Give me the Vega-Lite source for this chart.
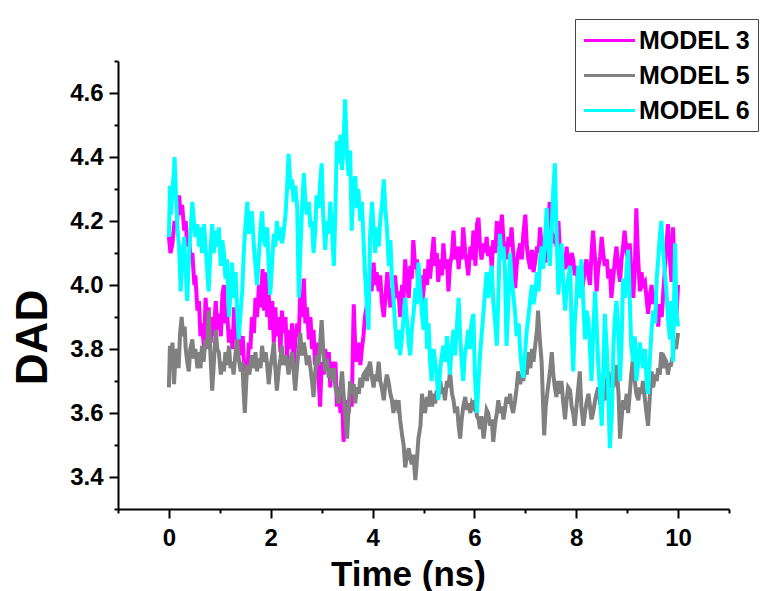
{
"$schema":"https://vega.github.io/schema/vega-lite/v6.json",
"width":611,"height":448,
"autosize":"none",
"padding":{"left":118,"top":61,"right":41,"bottom":82},
"background":"white",
"config":{"view":{"stroke":null},"font":"Liberation Sans"},
"layer":[
{"data":{"values":[
{"t":0.00,"v":4.15},{"t":0.03,"v":4.10},{"t":0.07,"v":4.13},{"t":0.11,"v":4.20},{"t":0.15,"v":4.18},{"t":0.20,"v":4.28},{"t":0.23,"v":4.22},{"t":0.26,"v":4.25},{"t":0.30,"v":4.17},{"t":0.33,"v":4.20},{"t":0.36,"v":4.12},{"t":0.39,"v":4.15},{"t":0.43,"v":4.08},{"t":0.46,"v":4.10},{"t":0.50,"v":4.00},{"t":0.52,"v":4.03},{"t":0.56,"v":3.92},{"t":0.59,"v":3.95},{"t":0.62,"v":3.84},{"t":0.65,"v":3.88},{"t":0.69,"v":3.80},{"t":0.72,"v":3.96},{"t":0.75,"v":3.88},{"t":0.78,"v":3.93},{"t":0.82,"v":3.82},{"t":0.85,"v":3.90},{"t":0.88,"v":3.84},{"t":0.92,"v":3.95},{"t":0.95,"v":3.86},{"t":0.98,"v":3.91},
{"t":1.02,"v":3.84},{"t":1.05,"v":3.97},{"t":1.08,"v":4.00},{"t":1.11,"v":3.88},{"t":1.14,"v":3.92},{"t":1.18,"v":3.82},{"t":1.21,"v":3.86},{"t":1.25,"v":3.80},{"t":1.28,"v":3.93},{"t":1.31,"v":3.88},{"t":1.35,"v":3.80},{"t":1.38,"v":3.85},{"t":1.41,"v":3.78},{"t":1.45,"v":3.84},{"t":1.48,"v":3.73},{"t":1.50,"v":3.76},{"t":1.54,"v":3.72},{"t":1.57,"v":3.82},{"t":1.60,"v":3.80},{"t":1.63,"v":3.90},{"t":1.67,"v":3.85},{"t":1.70,"v":3.96},{"t":1.73,"v":3.90},{"t":1.77,"v":4.00},{"t":1.80,"v":3.93},{"t":1.84,"v":4.05},{"t":1.87,"v":3.92},{"t":1.90,"v":4.04},{"t":1.93,"v":3.90},{"t":1.96,"v":3.97},{"t":1.99,"v":3.86},
{"t":2.03,"v":3.95},{"t":2.06,"v":3.82},{"t":2.09,"v":3.93},{"t":2.12,"v":3.84},{"t":2.16,"v":3.90},{"t":2.19,"v":3.79},{"t":2.22,"v":3.92},{"t":2.25,"v":3.85},{"t":2.29,"v":3.90},{"t":2.32,"v":3.77},{"t":2.35,"v":3.86},{"t":2.39,"v":3.80},{"t":2.42,"v":3.88},{"t":2.45,"v":3.74},{"t":2.48,"v":3.82},{"t":2.52,"v":3.88},{"t":2.55,"v":3.84},{"t":2.58,"v":3.97},{"t":2.61,"v":3.90},{"t":2.65,"v":4.02},{"t":2.68,"v":3.88},{"t":2.71,"v":3.93},{"t":2.75,"v":3.83},{"t":2.78,"v":3.90},{"t":2.81,"v":3.80},{"t":2.84,"v":3.86},{"t":2.87,"v":3.75},{"t":2.90,"v":3.82},{"t":2.94,"v":3.70},{"t":2.97,"v":3.62},
{"t":3.00,"v":3.76},{"t":3.04,"v":3.72},{"t":3.07,"v":3.80},{"t":3.10,"v":3.75},{"t":3.14,"v":3.79},{"t":3.17,"v":3.68},{"t":3.20,"v":3.76},{"t":3.24,"v":3.72},{"t":3.27,"v":3.76},{"t":3.30,"v":3.62},{"t":3.33,"v":3.68},{"t":3.37,"v":3.60},{"t":3.40,"v":3.66},{"t":3.43,"v":3.51},{"t":3.46,"v":3.58},{"t":3.50,"v":3.64},{"t":3.53,"v":3.60},{"t":3.56,"v":3.66},{"t":3.59,"v":3.62},{"t":3.63,"v":3.94},{"t":3.66,"v":3.80},{"t":3.69,"v":3.76},{"t":3.72,"v":3.82},{"t":3.76,"v":3.75},{"t":3.79,"v":3.80},{"t":3.82,"v":3.84},{"t":3.85,"v":3.90},{"t":3.89,"v":3.94},{"t":3.92,"v":3.98},{"t":3.95,"v":4.05},{"t":3.98,"v":3.98},
{"t":4.02,"v":4.07},{"t":4.05,"v":4.00},{"t":4.08,"v":4.04},{"t":4.12,"v":3.98},{"t":4.15,"v":4.03},{"t":4.18,"v":3.95},{"t":4.22,"v":3.90},{"t":4.25,"v":3.96},{"t":4.29,"v":4.04},{"t":4.32,"v":3.97},{"t":4.35,"v":3.93},{"t":4.38,"v":3.99},{"t":4.41,"v":3.95},{"t":4.44,"v":4.03},{"t":4.48,"v":3.96},{"t":4.51,"v":3.98},{"t":4.54,"v":3.90},{"t":4.58,"v":4.00},{"t":4.61,"v":3.96},{"t":4.64,"v":4.08},{"t":4.68,"v":4.00},{"t":4.71,"v":3.96},{"t":4.74,"v":4.06},{"t":4.77,"v":4.02},{"t":4.80,"v":4.14},{"t":4.84,"v":4.05},{"t":4.87,"v":4.08},{"t":4.90,"v":3.98},{"t":4.94,"v":4.03},{"t":4.97,"v":3.94},
{"t":5.00,"v":3.98},{"t":5.03,"v":4.05},{"t":5.07,"v":4.00},{"t":5.10,"v":4.08},{"t":5.13,"v":4.02},{"t":5.17,"v":4.10},{"t":5.20,"v":4.15},{"t":5.23,"v":4.06},{"t":5.26,"v":4.10},{"t":5.29,"v":4.01},{"t":5.33,"v":4.08},{"t":5.36,"v":4.03},{"t":5.39,"v":4.13},{"t":5.43,"v":4.05},{"t":5.46,"v":4.08},{"t":5.49,"v":3.98},{"t":5.52,"v":4.06},{"t":5.56,"v":4.10},{"t":5.59,"v":4.17},{"t":5.62,"v":4.08},{"t":5.66,"v":4.12},{"t":5.69,"v":4.05},{"t":5.72,"v":4.12},{"t":5.75,"v":4.08},{"t":5.78,"v":4.18},{"t":5.82,"v":4.10},{"t":5.85,"v":4.07},{"t":5.88,"v":4.03},{"t":5.92,"v":4.12},{"t":5.95,"v":4.08},{"t":5.98,"v":4.17},
{"t":6.02,"v":4.06},{"t":6.05,"v":4.19},{"t":6.08,"v":4.21},{"t":6.11,"v":4.12},{"t":6.14,"v":4.08},{"t":6.18,"v":4.13},{"t":6.21,"v":4.10},{"t":6.24,"v":4.15},{"t":6.27,"v":4.09},{"t":6.31,"v":4.12},{"t":6.34,"v":4.05},{"t":6.37,"v":4.14},{"t":6.41,"v":4.10},{"t":6.44,"v":4.20},{"t":6.47,"v":4.12},{"t":6.50,"v":4.16},{"t":6.54,"v":4.22},{"t":6.57,"v":4.14},{"t":6.60,"v":4.10},{"t":6.63,"v":4.08},{"t":6.67,"v":4.15},{"t":6.70,"v":4.12},{"t":6.73,"v":4.18},{"t":6.77,"v":4.08},{"t":6.80,"v":3.99},{"t":6.83,"v":4.06},{"t":6.86,"v":4.10},{"t":6.90,"v":4.13},{"t":6.93,"v":4.08},{"t":6.96,"v":4.16},
{"t":7.00,"v":4.22},{"t":7.03,"v":4.12},{"t":7.06,"v":4.08},{"t":7.10,"v":4.05},{"t":7.13,"v":4.11},{"t":7.16,"v":4.04},{"t":7.19,"v":4.07},{"t":7.23,"v":4.12},{"t":7.26,"v":4.10},{"t":7.29,"v":4.18},{"t":7.32,"v":4.12},{"t":7.36,"v":4.15},{"t":7.39,"v":4.07},{"t":7.42,"v":4.12},{"t":7.45,"v":4.20},{"t":7.48,"v":4.26},{"t":7.51,"v":4.18},{"t":7.55,"v":4.13},{"t":7.58,"v":4.16},{"t":7.61,"v":4.12},{"t":7.65,"v":4.20},{"t":7.68,"v":4.10},{"t":7.71,"v":4.02},{"t":7.74,"v":4.08},{"t":7.78,"v":4.05},{"t":7.81,"v":4.12},{"t":7.84,"v":4.07},{"t":7.88,"v":4.05},{"t":7.91,"v":4.10},{"t":7.94,"v":4.08},{"t":7.97,"v":4.03},
{"t":8.01,"v":4.06},{"t":8.04,"v":3.99},{"t":8.07,"v":4.05},{"t":8.10,"v":4.02},{"t":8.14,"v":4.01},{"t":8.17,"v":4.05},{"t":8.20,"v":4.08},{"t":8.24,"v":4.03},{"t":8.27,"v":4.00},{"t":8.30,"v":4.10},{"t":8.33,"v":4.17},{"t":8.37,"v":4.08},{"t":8.40,"v":3.98},{"t":8.43,"v":4.05},{"t":8.47,"v":4.09},{"t":8.50,"v":4.15},{"t":8.53,"v":4.10},{"t":8.56,"v":4.06},{"t":8.60,"v":4.08},{"t":8.63,"v":4.02},{"t":8.66,"v":4.05},{"t":8.69,"v":3.96},{"t":8.73,"v":4.03},{"t":8.76,"v":4.08},{"t":8.79,"v":4.12},{"t":8.82,"v":4.06},{"t":8.86,"v":4.01},{"t":8.89,"v":4.08},{"t":8.92,"v":4.12},{"t":8.95,"v":4.17},{"t":8.99,"v":4.10},
{"t":9.02,"v":4.08},{"t":9.05,"v":4.13},{"t":9.08,"v":4.05},{"t":9.12,"v":3.96},{"t":9.15,"v":4.05},{"t":9.18,"v":4.24},{"t":9.21,"v":4.10},{"t":9.25,"v":3.98},{"t":9.28,"v":4.04},{"t":9.31,"v":4.00},{"t":9.35,"v":4.01},{"t":9.38,"v":3.96},{"t":9.41,"v":3.91},{"t":9.45,"v":3.97},{"t":9.48,"v":4.00},{"t":9.51,"v":3.94},{"t":9.55,"v":3.98},{"t":9.58,"v":3.92},{"t":9.61,"v":3.87},{"t":9.64,"v":3.94},{"t":9.68,"v":3.90},{"t":9.71,"v":3.98},{"t":9.74,"v":4.05},{"t":9.77,"v":4.12},{"t":9.80,"v":4.19},{"t":9.84,"v":4.08},{"t":9.87,"v":4.01},{"t":9.90,"v":4.18},{"t":9.93,"v":4.05},{"t":9.97,"v":3.91},{"t":10.00,"v":4.00}
]},
"mark":{"type":"line","strokeWidth":4},
"encoding":{
"x":{"field":"t","type":"quantitative","scale":{"domain":[-1,11],"nice":false,"zero":false},
"axis":{"values":[0,2,4,6,8,10],"format":"d","grid":false,"tickSize":9,"tickWidth":2,"tickColor":"black","domainColor":"black","domainWidth":2,"labelFontSize":24,"labelFontWeight":"bold","labelColor":"black","labelBaseline":"alphabetic","labelPadding":27,"title":"Time (ns)","titleFontSize":35,"titleFontWeight":"bold","titleColor":"black","titleX":290,"titleY":76,"titleBaseline":"alphabetic","titleAlign":"center"}},
"y":{"field":"v","type":"quantitative","scale":{"domain":[3.3,4.7],"nice":false,"zero":false},
"axis":{"values":[3.4,3.6,3.8,4.0,4.2,4.4,4.6],"format":".1f","grid":false,"tickSize":9,"tickWidth":2,"tickColor":"black","domainColor":"black","domainWidth":2,"labelFontSize":24,"labelFontWeight":"bold","labelColor":"black","labelPadding":6,"title":"DAD","titleFontSize":44,"titleFontWeight":"bold","titleColor":"black","titleX":-63,"titleY":276,"titleAlign":"center","titleBaseline":"bottom"}},
"color":{"datum":"MODEL 3","type":"nominal","scale":{"domain":["MODEL 3","MODEL 5","MODEL 6"],"range":["#ff00ff","#808080","#00ffff"]},
"legend":{"orient":"none","legendX":457,"legendY":-42,"title":null,"strokeColor":"#444","fillColor":"white","padding":7,"symbolType":"M-2,0H2","symbolSize":650,"symbolStrokeWidth":3,"symbolOffset":13,"labelFontSize":25,"labelFontWeight":"bold","labelColor":"black","rowPadding":7,"labelOffset":15,"labelLimit":300}}
}},
{"data":{"values":[
{"t":0.00,"v":3.68},{"t":0.02,"v":3.81},{"t":0.04,"v":3.74},{"t":0.07,"v":3.82},{"t":0.10,"v":3.69},{"t":0.13,"v":3.78},{"t":0.16,"v":3.80},{"t":0.19,"v":3.74},{"t":0.22,"v":3.85},{"t":0.25,"v":3.90},{"t":0.28,"v":3.84},{"t":0.31,"v":3.87},{"t":0.33,"v":3.80},{"t":0.36,"v":3.76},{"t":0.39,"v":3.73},{"t":0.42,"v":3.80},{"t":0.46,"v":3.83},{"t":0.49,"v":3.77},{"t":0.52,"v":3.80},{"t":0.56,"v":3.74},{"t":0.59,"v":3.79},{"t":0.62,"v":3.74},{"t":0.65,"v":3.81},{"t":0.68,"v":3.76},{"t":0.72,"v":3.83},{"t":0.75,"v":3.80},{"t":0.78,"v":3.92},{"t":0.81,"v":3.80},{"t":0.85,"v":3.67},{"t":0.88,"v":3.75},{"t":0.92,"v":3.86},{"t":0.95,"v":3.80},{"t":0.98,"v":3.79},
{"t":1.02,"v":3.72},{"t":1.05,"v":3.76},{"t":1.08,"v":3.73},{"t":1.11,"v":3.79},{"t":1.14,"v":3.75},{"t":1.18,"v":3.81},{"t":1.21,"v":3.74},{"t":1.24,"v":3.76},{"t":1.27,"v":3.72},{"t":1.31,"v":3.79},{"t":1.34,"v":3.83},{"t":1.37,"v":3.77},{"t":1.41,"v":3.73},{"t":1.44,"v":3.76},{"t":1.47,"v":3.66},{"t":1.49,"v":3.60},{"t":1.52,"v":3.70},{"t":1.54,"v":3.75},{"t":1.58,"v":3.72},{"t":1.61,"v":3.76},{"t":1.63,"v":3.78},{"t":1.67,"v":3.74},{"t":1.70,"v":3.79},{"t":1.73,"v":3.73},{"t":1.77,"v":3.77},{"t":1.80,"v":3.74},{"t":1.83,"v":3.81},{"t":1.86,"v":3.76},{"t":1.90,"v":3.79},{"t":1.93,"v":3.75},{"t":1.96,"v":3.69},{"t":1.99,"v":3.74},
{"t":2.03,"v":3.78},{"t":2.06,"v":3.82},{"t":2.09,"v":3.74},{"t":2.12,"v":3.67},{"t":2.16,"v":3.74},{"t":2.19,"v":3.77},{"t":2.22,"v":3.81},{"t":2.25,"v":3.75},{"t":2.29,"v":3.78},{"t":2.32,"v":3.76},{"t":2.35,"v":3.72},{"t":2.39,"v":3.77},{"t":2.42,"v":3.79},{"t":2.45,"v":3.73},{"t":2.48,"v":3.67},{"t":2.52,"v":3.75},{"t":2.55,"v":3.80},{"t":2.58,"v":3.85},{"t":2.61,"v":3.78},{"t":2.65,"v":3.82},{"t":2.68,"v":3.79},{"t":2.71,"v":3.75},{"t":2.75,"v":3.78},{"t":2.78,"v":3.74},{"t":2.81,"v":3.70},{"t":2.84,"v":3.65},{"t":2.87,"v":3.72},{"t":2.90,"v":3.78},{"t":2.94,"v":3.75},{"t":2.97,"v":3.82},
{"t":3.00,"v":3.89},{"t":3.03,"v":3.80},{"t":3.07,"v":3.73},{"t":3.10,"v":3.77},{"t":3.14,"v":3.71},{"t":3.17,"v":3.74},{"t":3.20,"v":3.70},{"t":3.24,"v":3.74},{"t":3.27,"v":3.68},{"t":3.30,"v":3.66},{"t":3.33,"v":3.63},{"t":3.37,"v":3.68},{"t":3.40,"v":3.73},{"t":3.43,"v":3.66},{"t":3.46,"v":3.60},{"t":3.50,"v":3.52},{"t":3.53,"v":3.62},{"t":3.56,"v":3.70},{"t":3.59,"v":3.66},{"t":3.63,"v":3.69},{"t":3.66,"v":3.63},{"t":3.69,"v":3.68},{"t":3.73,"v":3.66},{"t":3.76,"v":3.71},{"t":3.79,"v":3.68},{"t":3.82,"v":3.72},{"t":3.86,"v":3.73},{"t":3.89,"v":3.70},{"t":3.92,"v":3.74},{"t":3.95,"v":3.76},{"t":3.98,"v":3.72},
{"t":4.02,"v":3.68},{"t":4.05,"v":3.72},{"t":4.08,"v":3.70},{"t":4.12,"v":3.76},{"t":4.15,"v":3.70},{"t":4.18,"v":3.68},{"t":4.22,"v":3.64},{"t":4.25,"v":3.69},{"t":4.28,"v":3.72},{"t":4.31,"v":3.70},{"t":4.35,"v":3.66},{"t":4.38,"v":3.64},{"t":4.41,"v":3.60},{"t":4.44,"v":3.64},{"t":4.48,"v":3.62},{"t":4.51,"v":3.64},{"t":4.54,"v":3.58},{"t":4.58,"v":3.53},{"t":4.61,"v":3.50},{"t":4.64,"v":3.43},{"t":4.68,"v":3.47},{"t":4.71,"v":3.49},{"t":4.74,"v":3.46},{"t":4.77,"v":3.44},{"t":4.80,"v":3.47},{"t":4.84,"v":3.39},{"t":4.87,"v":3.45},{"t":4.90,"v":3.52},{"t":4.94,"v":3.56},{"t":4.97,"v":3.66},
{"t":5.00,"v":3.62},{"t":5.03,"v":3.60},{"t":5.07,"v":3.65},{"t":5.10,"v":3.62},{"t":5.13,"v":3.67},{"t":5.17,"v":3.62},{"t":5.20,"v":3.66},{"t":5.23,"v":3.63},{"t":5.26,"v":3.67},{"t":5.29,"v":3.65},{"t":5.33,"v":3.70},{"t":5.36,"v":3.66},{"t":5.39,"v":3.68},{"t":5.42,"v":3.64},{"t":5.46,"v":3.70},{"t":5.49,"v":3.68},{"t":5.52,"v":3.73},{"t":5.56,"v":3.66},{"t":5.59,"v":3.64},{"t":5.62,"v":3.60},{"t":5.66,"v":3.62},{"t":5.69,"v":3.56},{"t":5.72,"v":3.52},{"t":5.75,"v":3.58},{"t":5.78,"v":3.62},{"t":5.82,"v":3.65},{"t":5.85,"v":3.61},{"t":5.88,"v":3.63},{"t":5.92,"v":3.60},{"t":5.95,"v":3.63},{"t":5.98,"v":3.62},
{"t":6.01,"v":3.64},{"t":6.05,"v":3.59},{"t":6.08,"v":3.58},{"t":6.11,"v":3.55},{"t":6.14,"v":3.59},{"t":6.18,"v":3.52},{"t":6.21,"v":3.56},{"t":6.24,"v":3.61},{"t":6.27,"v":3.60},{"t":6.31,"v":3.56},{"t":6.34,"v":3.58},{"t":6.37,"v":3.51},{"t":6.41,"v":3.57},{"t":6.44,"v":3.60},{"t":6.47,"v":3.64},{"t":6.50,"v":3.60},{"t":6.54,"v":3.62},{"t":6.57,"v":3.58},{"t":6.60,"v":3.61},{"t":6.63,"v":3.65},{"t":6.67,"v":3.63},{"t":6.70,"v":3.66},{"t":6.73,"v":3.62},{"t":6.76,"v":3.60},{"t":6.80,"v":3.64},{"t":6.83,"v":3.68},{"t":6.86,"v":3.73},{"t":6.90,"v":3.69},{"t":6.93,"v":3.72},{"t":6.96,"v":3.70},
{"t":7.00,"v":3.75},{"t":7.03,"v":3.72},{"t":7.06,"v":3.79},{"t":7.10,"v":3.74},{"t":7.13,"v":3.80},{"t":7.16,"v":3.76},{"t":7.20,"v":3.82},{"t":7.23,"v":3.86},{"t":7.25,"v":3.92},{"t":7.28,"v":3.84},{"t":7.32,"v":3.76},{"t":7.35,"v":3.62},{"t":7.37,"v":3.53},{"t":7.40,"v":3.62},{"t":7.43,"v":3.66},{"t":7.46,"v":3.70},{"t":7.49,"v":3.74},{"t":7.52,"v":3.79},{"t":7.55,"v":3.72},{"t":7.58,"v":3.68},{"t":7.61,"v":3.65},{"t":7.64,"v":3.70},{"t":7.68,"v":3.66},{"t":7.71,"v":3.70},{"t":7.74,"v":3.64},{"t":7.78,"v":3.58},{"t":7.81,"v":3.64},{"t":7.84,"v":3.68},{"t":7.88,"v":3.67},{"t":7.91,"v":3.62},{"t":7.94,"v":3.60},{"t":7.97,"v":3.56},
{"t":8.01,"v":3.63},{"t":8.04,"v":3.68},{"t":8.07,"v":3.73},{"t":8.10,"v":3.62},{"t":8.14,"v":3.56},{"t":8.17,"v":3.60},{"t":8.20,"v":3.63},{"t":8.24,"v":3.66},{"t":8.27,"v":3.62},{"t":8.30,"v":3.58},{"t":8.33,"v":3.60},{"t":8.37,"v":3.64},{"t":8.40,"v":3.66},{"t":8.43,"v":3.68},{"t":8.47,"v":3.63},{"t":8.50,"v":3.62},{"t":8.53,"v":3.66},{"t":8.56,"v":3.64},{"t":8.60,"v":3.70},{"t":8.63,"v":3.73},{"t":8.66,"v":3.68},{"t":8.69,"v":3.72},{"t":8.73,"v":3.68},{"t":8.76,"v":3.71},{"t":8.79,"v":3.75},{"t":8.83,"v":3.66},{"t":8.86,"v":3.52},{"t":8.89,"v":3.58},{"t":8.92,"v":3.64},{"t":8.95,"v":3.61},{"t":8.99,"v":3.66},
{"t":9.02,"v":3.60},{"t":9.05,"v":3.66},{"t":9.08,"v":3.72},{"t":9.12,"v":3.78},{"t":9.15,"v":3.70},{"t":9.18,"v":3.66},{"t":9.22,"v":3.64},{"t":9.25,"v":3.68},{"t":9.28,"v":3.66},{"t":9.31,"v":3.70},{"t":9.35,"v":3.64},{"t":9.38,"v":3.60},{"t":9.41,"v":3.56},{"t":9.44,"v":3.64},{"t":9.48,"v":3.73},{"t":9.51,"v":3.68},{"t":9.55,"v":3.72},{"t":9.58,"v":3.70},{"t":9.61,"v":3.74},{"t":9.64,"v":3.72},{"t":9.67,"v":3.79},{"t":9.71,"v":3.74},{"t":9.74,"v":3.77},{"t":9.77,"v":3.76},{"t":9.80,"v":3.72},{"t":9.83,"v":3.75},{"t":9.86,"v":3.75},{"t":9.90,"v":3.78},{"t":9.93,"v":3.83},{"t":9.96,"v":3.80},{"t":10.00,"v":3.85}
]},
"mark":{"type":"line","strokeWidth":4},
"encoding":{
"x":{"field":"t","type":"quantitative","axis":{"orient":"bottom","values":[-1,1,3,5,7,9,11],"grid":false,"labels":false,"domain":false,"tickSize":4,"tickWidth":2,"tickColor":"black","title":null}},
"y":{"field":"v","type":"quantitative","axis":{"orient":"left","values":[3.3,3.5,3.7,3.9,4.1,4.3,4.5,4.7],"grid":false,"labels":false,"domain":false,"tickSize":4,"tickWidth":2,"tickColor":"black","title":null}},
"color":{"datum":"MODEL 5","type":"nominal"}
}},
{"data":{"values":[
{"t":0.00,"v":4.15},{"t":0.02,"v":4.31},{"t":0.04,"v":4.22},{"t":0.07,"v":4.30},{"t":0.10,"v":4.36},{"t":0.11,"v":4.40},{"t":0.14,"v":4.28},{"t":0.17,"v":4.17},{"t":0.20,"v":4.12},{"t":0.23,"v":3.98},{"t":0.26,"v":4.08},{"t":0.30,"v":4.15},{"t":0.33,"v":4.04},{"t":0.36,"v":3.95},{"t":0.39,"v":4.08},{"t":0.43,"v":4.18},{"t":0.46,"v":4.26},{"t":0.49,"v":4.20},{"t":0.52,"v":4.15},{"t":0.56,"v":4.19},{"t":0.59,"v":4.12},{"t":0.62,"v":4.18},{"t":0.65,"v":4.10},{"t":0.69,"v":4.19},{"t":0.72,"v":4.12},{"t":0.75,"v":4.05},{"t":0.78,"v":3.98},{"t":0.82,"v":4.12},{"t":0.85,"v":4.19},{"t":0.88,"v":4.10},{"t":0.92,"v":4.17},{"t":0.95,"v":4.12},{"t":0.98,"v":4.18},
{"t":1.02,"v":4.06},{"t":1.05,"v":4.14},{"t":1.08,"v":4.10},{"t":1.11,"v":4.02},{"t":1.14,"v":4.08},{"t":1.18,"v":3.90},{"t":1.21,"v":3.98},{"t":1.24,"v":4.07},{"t":1.27,"v":3.96},{"t":1.31,"v":4.04},{"t":1.34,"v":3.92},{"t":1.37,"v":3.83},{"t":1.41,"v":3.92},{"t":1.44,"v":3.98},{"t":1.47,"v":4.10},{"t":1.50,"v":4.18},{"t":1.54,"v":4.26},{"t":1.57,"v":4.16},{"t":1.60,"v":4.20},{"t":1.63,"v":4.23},{"t":1.67,"v":4.12},{"t":1.70,"v":4.06},{"t":1.73,"v":4.00},{"t":1.77,"v":4.10},{"t":1.80,"v":4.18},{"t":1.83,"v":4.23},{"t":1.86,"v":4.14},{"t":1.90,"v":4.12},{"t":1.93,"v":4.18},{"t":1.96,"v":4.06},{"t":1.99,"v":3.97},
{"t":2.03,"v":4.08},{"t":2.06,"v":4.16},{"t":2.09,"v":4.12},{"t":2.12,"v":4.20},{"t":2.16,"v":4.14},{"t":2.19,"v":4.18},{"t":2.22,"v":4.13},{"t":2.25,"v":4.16},{"t":2.29,"v":4.22},{"t":2.32,"v":4.30},{"t":2.35,"v":4.41},{"t":2.39,"v":4.30},{"t":2.42,"v":4.33},{"t":2.45,"v":4.26},{"t":2.48,"v":4.31},{"t":2.52,"v":4.24},{"t":2.55,"v":3.96},{"t":2.58,"v":4.10},{"t":2.61,"v":4.22},{"t":2.65,"v":4.35},{"t":2.68,"v":4.26},{"t":2.71,"v":4.22},{"t":2.75,"v":4.26},{"t":2.78,"v":4.18},{"t":2.81,"v":4.20},{"t":2.84,"v":4.10},{"t":2.87,"v":4.16},{"t":2.90,"v":4.28},{"t":2.94,"v":4.24},{"t":2.97,"v":4.32},
{"t":3.00,"v":4.38},{"t":3.03,"v":4.22},{"t":3.07,"v":4.11},{"t":3.10,"v":4.20},{"t":3.14,"v":4.16},{"t":3.17,"v":4.26},{"t":3.20,"v":4.18},{"t":3.24,"v":4.06},{"t":3.27,"v":4.24},{"t":3.30,"v":4.45},{"t":3.33,"v":4.38},{"t":3.37,"v":4.47},{"t":3.40,"v":4.36},{"t":3.43,"v":4.44},{"t":3.46,"v":4.58},{"t":3.50,"v":4.40},{"t":3.53,"v":4.34},{"t":3.56,"v":4.42},{"t":3.59,"v":4.17},{"t":3.62,"v":4.30},{"t":3.66,"v":4.34},{"t":3.69,"v":4.24},{"t":3.72,"v":4.30},{"t":3.76,"v":4.20},{"t":3.79,"v":4.26},{"t":3.82,"v":4.15},{"t":3.85,"v":4.04},{"t":3.89,"v":3.93},{"t":3.92,"v":3.86},{"t":3.95,"v":4.15},{"t":3.99,"v":4.26},
{"t":4.02,"v":4.18},{"t":4.05,"v":4.10},{"t":4.09,"v":4.18},{"t":4.12,"v":4.12},{"t":4.15,"v":4.20},{"t":4.19,"v":4.26},{"t":4.22,"v":4.33},{"t":4.25,"v":4.24},{"t":4.28,"v":4.18},{"t":4.32,"v":4.06},{"t":4.35,"v":4.14},{"t":4.38,"v":4.02},{"t":4.41,"v":3.96},{"t":4.44,"v":3.88},{"t":4.48,"v":3.80},{"t":4.51,"v":3.86},{"t":4.54,"v":3.78},{"t":4.58,"v":3.84},{"t":4.61,"v":3.90},{"t":4.64,"v":3.96},{"t":4.68,"v":3.88},{"t":4.71,"v":3.82},{"t":4.74,"v":3.78},{"t":4.77,"v":3.86},{"t":4.81,"v":3.92},{"t":4.84,"v":3.99},{"t":4.87,"v":3.94},{"t":4.90,"v":4.07},{"t":4.94,"v":3.98},{"t":4.97,"v":3.91},
{"t":5.00,"v":3.86},{"t":5.04,"v":3.96},{"t":5.07,"v":3.80},{"t":5.10,"v":3.88},{"t":5.13,"v":3.76},{"t":5.16,"v":3.70},{"t":5.20,"v":3.80},{"t":5.23,"v":3.76},{"t":5.26,"v":3.72},{"t":5.29,"v":3.64},{"t":5.33,"v":3.74},{"t":5.36,"v":3.78},{"t":5.39,"v":3.81},{"t":5.43,"v":3.76},{"t":5.46,"v":3.84},{"t":5.49,"v":3.78},{"t":5.52,"v":3.72},{"t":5.55,"v":3.80},{"t":5.59,"v":3.86},{"t":5.62,"v":3.78},{"t":5.66,"v":3.88},{"t":5.69,"v":3.96},{"t":5.72,"v":3.84},{"t":5.75,"v":3.76},{"t":5.78,"v":3.70},{"t":5.81,"v":3.78},{"t":5.85,"v":3.82},{"t":5.88,"v":3.86},{"t":5.91,"v":3.80},{"t":5.94,"v":3.88},{"t":5.98,"v":3.91},
{"t":6.01,"v":3.72},{"t":6.05,"v":3.60},{"t":6.08,"v":3.70},{"t":6.11,"v":3.78},{"t":6.14,"v":3.84},{"t":6.18,"v":3.92},{"t":6.21,"v":3.98},{"t":6.24,"v":4.04},{"t":6.27,"v":3.96},{"t":6.31,"v":4.02},{"t":6.34,"v":4.06},{"t":6.37,"v":3.95},{"t":6.41,"v":3.88},{"t":6.44,"v":3.81},{"t":6.47,"v":3.96},{"t":6.50,"v":4.16},{"t":6.54,"v":4.08},{"t":6.57,"v":4.12},{"t":6.60,"v":4.05},{"t":6.63,"v":3.81},{"t":6.67,"v":3.95},{"t":6.70,"v":4.10},{"t":6.73,"v":4.02},{"t":6.77,"v":3.96},{"t":6.80,"v":3.91},{"t":6.83,"v":3.84},{"t":6.87,"v":3.88},{"t":6.90,"v":3.79},{"t":6.93,"v":3.74},{"t":6.96,"v":3.71},
{"t":7.00,"v":3.80},{"t":7.03,"v":3.86},{"t":7.06,"v":3.90},{"t":7.10,"v":3.96},{"t":7.13,"v":4.00},{"t":7.16,"v":3.94},{"t":7.19,"v":3.97},{"t":7.23,"v":4.04},{"t":7.26,"v":3.98},{"t":7.29,"v":4.08},{"t":7.32,"v":4.12},{"t":7.35,"v":4.05},{"t":7.39,"v":4.16},{"t":7.42,"v":4.24},{"t":7.45,"v":4.12},{"t":7.48,"v":4.06},{"t":7.52,"v":4.18},{"t":7.55,"v":4.30},{"t":7.58,"v":4.38},{"t":7.61,"v":4.18},{"t":7.65,"v":3.97},{"t":7.68,"v":4.06},{"t":7.71,"v":4.13},{"t":7.74,"v":4.02},{"t":7.78,"v":3.92},{"t":7.81,"v":3.98},{"t":7.84,"v":4.02},{"t":7.88,"v":4.06},{"t":7.91,"v":3.86},{"t":7.94,"v":3.73},{"t":7.97,"v":3.88},
{"t":8.01,"v":3.98},{"t":8.04,"v":4.06},{"t":8.07,"v":3.96},{"t":8.10,"v":4.08},{"t":8.14,"v":3.94},{"t":8.17,"v":3.83},{"t":8.20,"v":3.92},{"t":8.24,"v":3.89},{"t":8.27,"v":3.80},{"t":8.30,"v":3.70},{"t":8.33,"v":3.84},{"t":8.37,"v":3.98},{"t":8.40,"v":3.88},{"t":8.43,"v":3.76},{"t":8.47,"v":3.66},{"t":8.50,"v":3.56},{"t":8.53,"v":3.72},{"t":8.56,"v":3.91},{"t":8.60,"v":3.80},{"t":8.63,"v":3.66},{"t":8.66,"v":3.49},{"t":8.70,"v":3.60},{"t":8.73,"v":3.81},{"t":8.76,"v":3.90},{"t":8.79,"v":3.95},{"t":8.83,"v":3.84},{"t":8.86,"v":3.70},{"t":8.89,"v":3.82},{"t":8.92,"v":4.02},{"t":8.96,"v":3.96},{"t":8.99,"v":4.06},
{"t":9.02,"v":4.11},{"t":9.05,"v":3.96},{"t":9.08,"v":3.81},{"t":9.12,"v":3.76},{"t":9.15,"v":3.84},{"t":9.18,"v":3.70},{"t":9.22,"v":3.76},{"t":9.25,"v":3.82},{"t":9.28,"v":3.78},{"t":9.31,"v":3.74},{"t":9.35,"v":3.80},{"t":9.38,"v":3.70},{"t":9.41,"v":3.66},{"t":9.45,"v":3.78},{"t":9.48,"v":3.86},{"t":9.51,"v":3.92},{"t":9.55,"v":3.88},{"t":9.58,"v":4.02},{"t":9.61,"v":4.08},{"t":9.64,"v":4.15},{"t":9.67,"v":4.20},{"t":9.71,"v":4.10},{"t":9.74,"v":4.04},{"t":9.77,"v":3.98},{"t":9.80,"v":3.90},{"t":9.84,"v":3.83},{"t":9.87,"v":3.95},{"t":9.90,"v":3.76},{"t":9.94,"v":4.13},{"t":9.97,"v":3.91},{"t":10.00,"v":3.87}
]},
"mark":{"type":"line","strokeWidth":4},
"encoding":{
"x":{"field":"t","type":"quantitative","axis":null},
"y":{"field":"v","type":"quantitative","axis":null},
"color":{"datum":"MODEL 6","type":"nominal"}
}}
],
"resolve":{"axis":{"x":"independent","y":"independent"}}
}
